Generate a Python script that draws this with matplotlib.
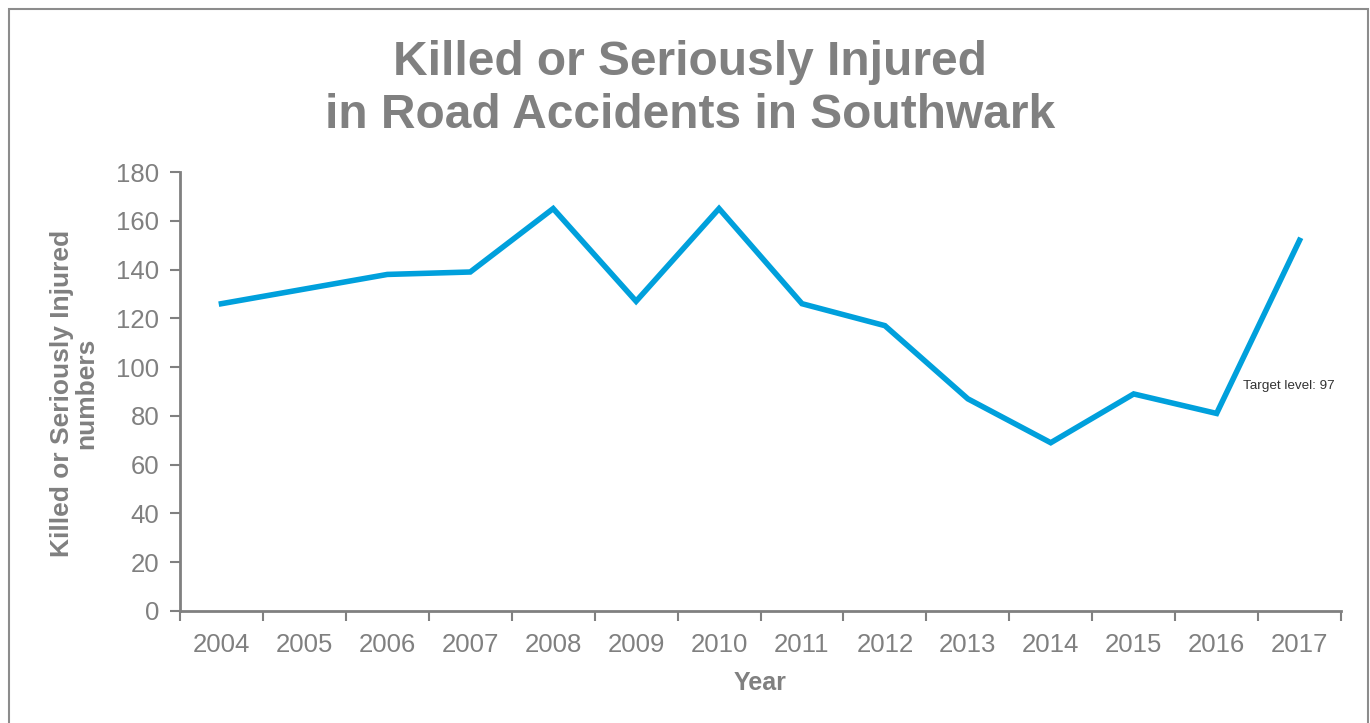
import matplotlib
matplotlib.use("Agg")
import matplotlib.pyplot as plt
from matplotlib.patches import Rectangle

years = ["2004", "2005", "2006", "2007", "2008", "2009", "2010",
         "2011", "2012", "2013", "2014", "2015", "2016", "2017"]
ksi = [126, 132, 138, 139, 165, 127, 165, 126, 117, 87, 69, 89, 81, 152]
yticks = [0, 20, 40, 60, 80, 100, 120, 140, 160, 180]

plt.rcParams['font.family'] = ['Liberation Sans', 'DejaVu Sans']
GRAY = '#808080'
W, H = 1370, 723
fig = plt.figure(figsize=(W / 100, H / 100), dpi=100)

# outer border
fig.add_artist(Rectangle((9 / W, -0.01), (1368 - 9) / W, (H - 9) / H + 0.01,
                         transform=fig.transFigure, fill=False,
                         edgecolor='#8c8c8c', linewidth=1.5))

left, right, top, bottom = 180, 1341, 172, 611
ax = fig.add_axes([left / W, 1 - bottom / H, (right - left) / W, (bottom - top) / H])

x = list(range(len(years)))
ax.plot(x, ksi, color='#00A0DC', linewidth=4.0, solid_joinstyle='miter')
ax.set_xlim(-0.5, len(years) - 0.5)
ax.set_ylim(0, 180)
ax.set_yticks(yticks)
ax.set_yticklabels([str(v) for v in yticks], fontsize=18.5, color=GRAY)

ax.set_xticks([i - 0.5 for i in range(len(years) + 1)])
ax.set_xticklabels([])
ax.set_xticks(x, minor=True)
ax.set_xticklabels(years, minor=True, fontsize=18.5, color=GRAY)
ax.tick_params(axis='x', which='minor', length=0, pad=16)
ax.tick_params(axis='x', which='major', length=7, width=1.5, color=GRAY, direction='out')
ax.tick_params(axis='y', length=7, width=1.5, color=GRAY, direction='out', pad=8)

for s in ['top', 'right']:
    ax.spines[s].set_visible(False)
for s in ['left', 'bottom']:
    ax.spines[s].set_color(GRAY)
    ax.spines[s].set_linewidth(2)

ax.set_xlabel("Year", fontsize=18, fontweight='bold', color=GRAY, labelpad=10)

fig.text(74 / W, 1 - 393 / H, "Killed or Seriously Injured\nnumbers", rotation=90,
         ha='center', va='center', fontsize=19, fontweight='bold', color=GRAY,
         linespacing=1.0, multialignment='center')

fig.text(690 / W, 1 - 89 / H, "Killed or Seriously Injured\nin Road Accidents in Southwark",
         ha='center', va='center', fontsize=34.5, fontweight='bold', color=GRAY,
         linespacing=1.25)

ax.text(12.32, 92.2, "Target level: 97", transform=ax.transData, fontsize=9.7,
        color='#333333', ha='left', va='center')

fig.savefig("out.png", dpi=100)
